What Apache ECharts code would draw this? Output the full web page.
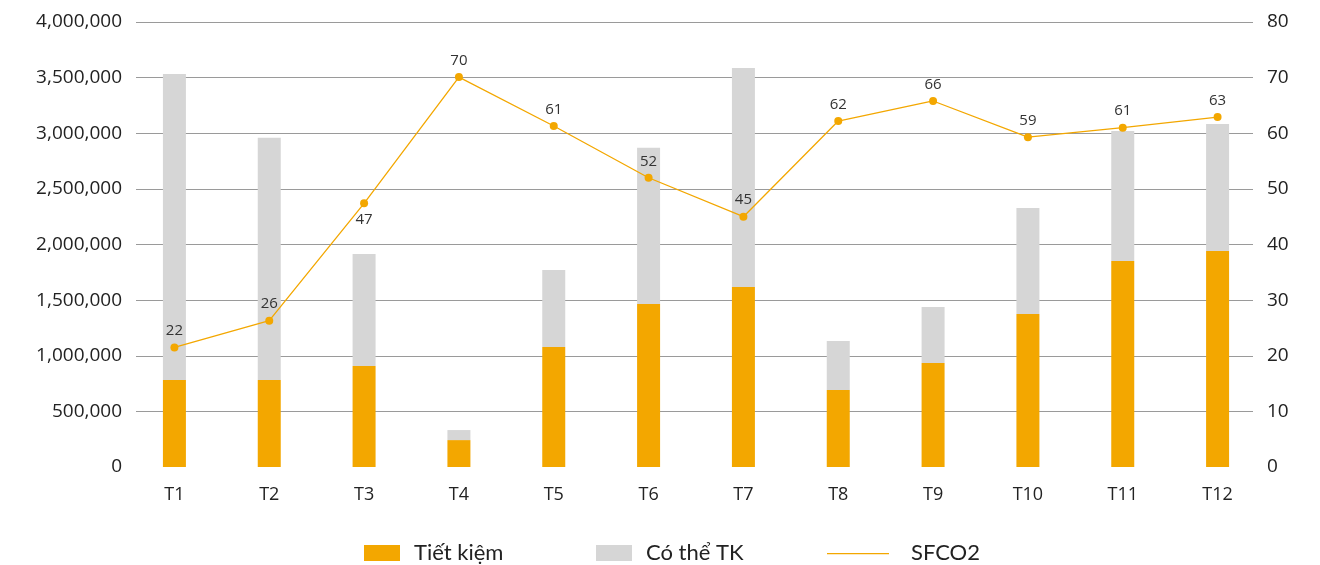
<!DOCTYPE html>
<html>
<head>
<meta charset="utf-8">
<script src="https://cdn.jsdelivr.net/npm/echarts@6/dist/echarts.min.js"></script>
<style>
  html, body { margin: 0; padding: 0; background: #fff; }
  #main { width: 1320px; height: 565px; }
</style>
</head>
<body>
<div id="main"></div>
<script>
// dữ liệu
const months = ["T1", "T2", "T3", "T4", "T5", "T6", "T7", "T8", "T9", "T10", "T11", "T12"];
const tietKiem = [782000, 782000, 907000, 242000, 1078000, 1465000, 1618000, 692000, 934000, 1375000, 1852000, 1942000];
const coTheTK = [2751000, 2178000, 1008000, 90000, 693000, 1405000, 1969000, 440000, 504000, 953000, 1169000, 1142000];
const sfco2 = [21.5, 26.3, 47.4, 70.1, 61.3, 52.0, 45.0, 62.2, 65.8, 59.3, 61.0, 62.9];
const leftTicks = { min: 0, max: 4000000, interval: 500000 };
const rightTicks = { min: 0, max: 80, interval: 10 };

const ORANGE = "#F3A700";
const GREY = "#D6D6D6";
const tickFont = "'Open Sans', 'Noto Sans', sans-serif";
const legendFont = "Lato, 'Noto Sans', sans-serif";

const myChart = echarts.init(document.getElementById("main"));

const legendText = {
  fontFamily: legendFont,
  fontSize: 22,
  color: "#222",
  padding: [0, 0, 0, 9],
};

myChart.setOption({
  animation: false,
  grid: [
    { left: 127, right: 55, top: 22, bottom: 98 },
    // lưới thứ hai chỉ để vẽ đường kẻ ngang (hẹp hơn một chút như bản gốc)
    { left: 136, right: 67, top: 22, bottom: 98 },
  ],
  legend: [
    {
      data: [{ name: "Tiết kiệm", icon: "rect" }],
      left: 364,
      top: 542,
      padding: 0,
      itemWidth: 36,
      itemHeight: 16,
      textStyle: legendText,
    },
    {
      data: [{ name: "Có thể TK", icon: "rect" }],
      left: 596,
      top: 542,
      padding: 0,
      itemWidth: 36,
      itemHeight: 16,
      textStyle: legendText,
    },
    {
      // chỉ một đường kẻ, không có chấm
      data: [{ name: "SFCO2", icon: "path://M0,0 L0,0 M0,7.9 L62,7.9 L62,9.3 L0,9.3 Z M62,16 L62,16" }],
      left: 827,
      top: 542,
      padding: 0,
      itemWidth: 62,
      itemHeight: 16,
      textStyle: Object.assign({}, legendText, { padding: [0, 0, 0, 17] }),
    },
  ],
  xAxis: [
    {
      type: "category",
      data: months,
      axisLine: { show: false },
      axisTick: { show: false },
      axisLabel: {
        fontFamily: tickFont,
        fontSize: 18,
        color: "#222",
        margin: 19,
      },
    },
    {
      type: "category",
      gridIndex: 1,
      data: months,
      show: false,
    },
  ],
  yAxis: [
    {
      type: "value",
      min: leftTicks.min,
      max: leftTicks.max,
      interval: leftTicks.interval,
      axisLine: { show: false },
      axisTick: { show: false },
      axisLabel: {
        fontFamily: tickFont,
        fontSize: 19,
        color: "#222",
        margin: 5,
        formatter: (v) => v.toLocaleString("en-US"),
      },
      splitLine: { show: false },
    },
    {
      type: "value",
      min: rightTicks.min,
      max: rightTicks.max,
      interval: rightTicks.interval,
      axisLine: { show: false },
      axisTick: { show: false },
      axisLabel: {
        fontFamily: tickFont,
        fontSize: 19,
        color: "#222",
        margin: 2,
      },
      splitLine: { show: false },
    },
    {
      type: "value",
      gridIndex: 1,
      min: leftTicks.min,
      max: leftTicks.max,
      interval: leftTicks.interval,
      axisLine: { show: false },
      axisTick: { show: false },
      axisLabel: { show: false },
      splitLine: {
        showMinLine: false,
        lineStyle: { color: "#9a9a9a", width: 1.2 },
      },
      z: 0,
    },
  ],
  series: [
    {
      name: "Tiết kiệm",
      type: "bar",
      stack: "total",
      barWidth: 23,
      itemStyle: { color: ORANGE },
      data: tietKiem,
    },
    {
      name: "Có thể TK",
      type: "bar",
      stack: "total",
      barWidth: 23,
      itemStyle: { color: GREY },
      data: coTheTK,
    },
    {
      name: "SFCO2",
      type: "line",
      yAxisIndex: 1,
      symbol: "circle",
      symbolSize: 8,
      lineStyle: { color: ORANGE, width: 1.3 },
      itemStyle: { color: ORANGE },
      label: {
        show: true,
        position: "top",
        distance: 5,
        fontFamily: tickFont,
        fontSize: 15,
        color: "#333",
        formatter: (p) => Math.round(p.value),
      },
      // nhãn T3 nằm dưới điểm
      data: sfco2.map((v, i) => (i === 2 ? { value: v, label: { position: "bottom" } } : v)),
    },
  ],
});

window.addEventListener("resize", function () {
  myChart.resize();
});
</script>
</body>
</html>
